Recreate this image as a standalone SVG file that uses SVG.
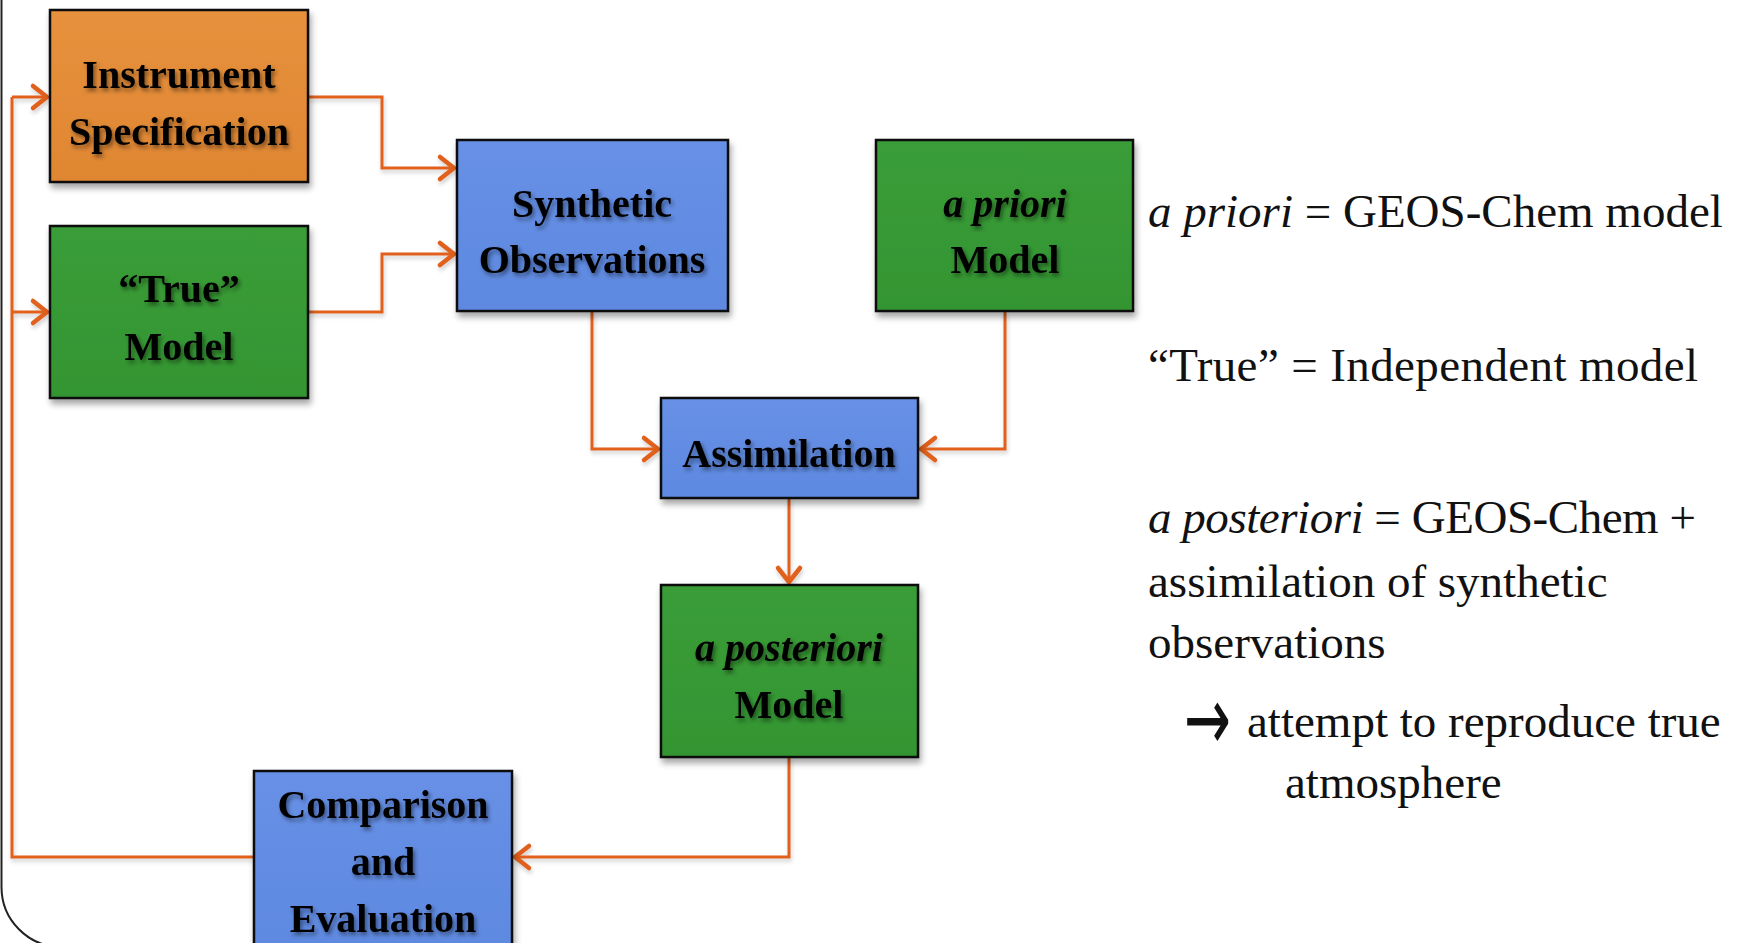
<svg xmlns="http://www.w3.org/2000/svg" width="1756" height="943" viewBox="0 0 1756 943">
<style>
.box{stroke:#111;stroke-width:2.5;filter:url(#bshadow)}
.lbl{font-family:"Liberation Serif","Times New Roman",serif;font-weight:bold;font-size:40px;fill:#000;text-anchor:middle;filter:url(#tshadow)}
.it{font-style:italic}
.conn{fill:none;stroke:#E0601E;stroke-width:3;marker-end:url(#arr)}
.side{font-family:"Liberation Serif","Times New Roman",serif;font-size:47px;fill:#111}
</style>
<defs>
<linearGradient id="gOr" x1="0" y1="0" x2="0" y2="1"><stop offset="0" stop-color="#E7913D"/><stop offset="1" stop-color="#DF8632"/></linearGradient>
<linearGradient id="gGr" x1="0" y1="0" x2="0" y2="1"><stop offset="0" stop-color="#3A9D38"/><stop offset="1" stop-color="#339532"/></linearGradient>
<linearGradient id="gBl" x1="0" y1="0" x2="0" y2="1"><stop offset="0" stop-color="#6790E6"/><stop offset="1" stop-color="#5E89E0"/></linearGradient>
<filter id="bshadow" x="-10%" y="-10%" width="125%" height="130%"><feDropShadow dx="2" dy="5" stdDeviation="3" flood-color="#000" flood-opacity="0.35"/></filter>
<filter id="tshadow" x="-10%" y="-20%" width="125%" height="150%"><feDropShadow dx="2" dy="3" stdDeviation="2" flood-color="#000" flood-opacity="0.45"/></filter>
<filter id="lshadow" x="-10%" y="-10%" width="125%" height="125%"><feDropShadow dx="1" dy="3" stdDeviation="2" flood-color="#000" flood-opacity="0.2"/></filter>
<marker id="arr" markerUnits="userSpaceOnUse" viewBox="-20 -16 24 32" refX="0" refY="0" markerWidth="24" markerHeight="32" orient="auto" overflow="visible">
<path d="M-15,-11 L-1,0 L-15,11" fill="none" stroke="#E0601E" stroke-width="4.5" stroke-linecap="round" stroke-linejoin="round"/>
</marker>
</defs>
<rect width="1756" height="943" fill="#fff"/>
<path d="M1.5,0 V887 A60,60 0 0 0 61,947" fill="none" stroke="#222" stroke-width="2"/>

<g id="connectors" filter="url(#lshadow)">
<path class="conn" d="M308,97 H382 V168 H455"/>
<path class="conn" d="M308,312 H382 V254 H455"/>
<path class="conn" d="M592,311 V449 H659"/>
<path class="conn" d="M1005,311 V449 H920"/>
<path class="conn" d="M789,498 V583"/>
<path class="conn" d="M789,757 V857 H514"/>
<path fill="none" stroke="#E0601E" stroke-width="3" d="M254,857 H12 V97"/>
<path class="conn" d="M12,97 H48"/>
<path class="conn" d="M12,312 H48"/>
</g>

<g id="instrument">
<rect class="box" x="50" y="10" width="258" height="172" fill="url(#gOr)"/>
<text class="lbl" x="179" y="88">Instrument</text>
<text class="lbl" x="179" y="145">Specification</text>
</g>
<g id="true-model">
<rect class="box" x="50" y="226" width="258" height="172" fill="url(#gGr)"/>
<text class="lbl" x="179" y="302">“True”</text>
<text class="lbl" x="179" y="360">Model</text>
</g>
<g id="synthetic">
<rect class="box" x="457" y="140" width="271" height="171" fill="url(#gBl)"/>
<text class="lbl" x="592" y="217">Synthetic</text>
<text class="lbl" x="592" y="273">Observations</text>
</g>
<g id="apriori">
<rect class="box" x="876" y="140" width="257" height="171" fill="url(#gGr)"/>
<text class="lbl it" x="1005" y="217">a priori</text>
<text class="lbl" x="1005" y="273">Model</text>
</g>
<g id="assimilation">
<rect class="box" x="661" y="398" width="257" height="100" fill="url(#gBl)"/>
<text class="lbl" x="789" y="467">Assimilation</text>
</g>
<g id="aposteriori">
<rect class="box" x="661" y="585" width="257" height="172" fill="url(#gGr)"/>
<text class="lbl it" x="789" y="661">a posteriori</text>
<text class="lbl" x="789" y="718">Model</text>
</g>
<g id="comparison">
<rect class="box" x="254" y="771" width="258" height="190" fill="url(#gBl)"/>
<text class="lbl" x="383" y="818">Comparison</text>
<text class="lbl" x="383" y="875">and</text>
<text class="lbl" x="383" y="932">Evaluation</text>
</g>

<g id="legend">
<text class="side" x="1148" y="227"><tspan font-style="italic">a priori</tspan> = GEOS-Chem model</text>
<text class="side" x="1148" y="381" textLength="550">“True” = Independent model</text>
<text class="side" x="1148" y="533" textLength="548"><tspan font-style="italic">a posteriori</tspan> = GEOS-Chem +</text>
<text class="side" x="1148" y="597">assimilation of synthetic</text>
<text class="side" x="1148" y="658">observations</text>
<text transform="translate(1184,750) scale(1,1.6)" font-family="DejaVu Sans, sans-serif" font-size="56" fill="#111">→</text>
<text class="side" x="1247" y="737">attempt to reproduce true</text>
<text class="side" x="1285" y="798">atmosphere</text>
</g>
</svg>
